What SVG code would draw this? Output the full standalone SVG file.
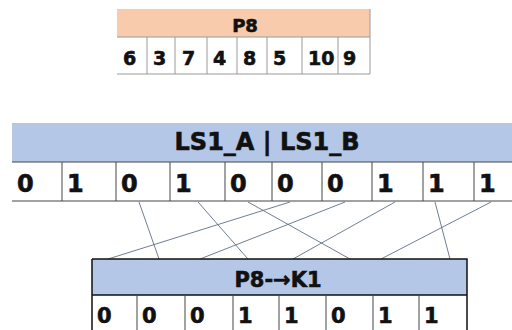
<svg xmlns="http://www.w3.org/2000/svg" width="512" height="330" viewBox="0 0 512 330">
<style>
.t{font-family:"DejaVu Sans","Liberation Sans",Arial,sans-serif;font-weight:bold;fill:#111;stroke:#111;stroke-width:0.6}
.ph{fill:#f8cbad}
.bh{fill:#b4c7e7}
.g{stroke:#9a9a9a;stroke-width:1;fill:none}
.d{stroke:#444;stroke-width:1;fill:none}
.k{stroke:#111;stroke-width:1.5;fill:none}
.c{stroke:#5f6f86;stroke-width:0.9;fill:none}
</style>
<rect width="512" height="330" fill="#fff"/>
<g id="p8">
<rect class="ph" x="117" y="9" width="253" height="28"/>
<rect x="117" y="37" width="253" height="37" fill="#fff"/>
<path class="g" d="M117 37H370M117 74H370M370 9V74M147 37V74M175 37V74M207 37V74M237 37V74M267 37V74M302 37V74M338 37V74"/>
<text class="t" x="245" y="32" font-size="18" text-anchor="middle">P8</text>
<g class="t" font-size="19">
<text x="123" y="65">6</text><text x="153" y="65">3</text><text x="182" y="65">7</text><text x="213" y="65">4</text><text x="243" y="65">8</text><text x="273" y="65">5</text><text x="308" y="65">10</text><text x="343" y="65">9</text>
</g>
</g>
<g id="ls1">
<rect class="bh" x="12" y="123" width="510" height="39"/>
<path class="d" d="M12 162H522M12 201H522M62 162V201M116 162V201M170 162V201M225 162V201M272 162V201M322 162V201M372 162V201M423 162V201M474 162V201"/>
<text class="t" x="267" y="150" font-size="24" text-anchor="middle">LS1_A | LS1_B</text>
<g class="t" font-size="24">
<text x="17" y="192">0</text><text x="67" y="192">1</text><text x="121" y="192">0</text><text x="175" y="192">1</text><text x="230" y="192">0</text><text x="277" y="192">0</text><text x="327" y="192">0</text><text x="377" y="192">1</text><text x="428" y="192">1</text><text x="479" y="192">1</text>
</g>
</g>
<g id="connectors">
<path class="c" d="M290 202L108 259M139 202L159 259M345 202L200 259M198 202L248 259M395 202L293 259M248 202L350 259M491 202L381 259M435 202L450 259"/>
</g>
<g id="k1">
<rect class="bh" x="92" y="259" width="375" height="36"/>
<rect x="92" y="295" width="375" height="45" fill="#fff"/>
<path class="k" d="M92 259H467V340M92 259V340M92 295H467"/>
<path class="d" d="M137 295V340M185 295V340M233 295V340M279 295V340M326 295V340M373 295V340M419 295V340"/>
<text class="t" x="278" y="287" font-size="21" text-anchor="middle">P8-→K1</text>
<g class="t" font-size="21">
<text x="97" y="323">0</text><text x="142" y="323">0</text><text x="190" y="323">0</text><text x="238" y="323">1</text><text x="284" y="323">1</text><text x="331" y="323">0</text><text x="378" y="323">1</text><text x="424" y="323">1</text>
</g>
</g>
</svg>
